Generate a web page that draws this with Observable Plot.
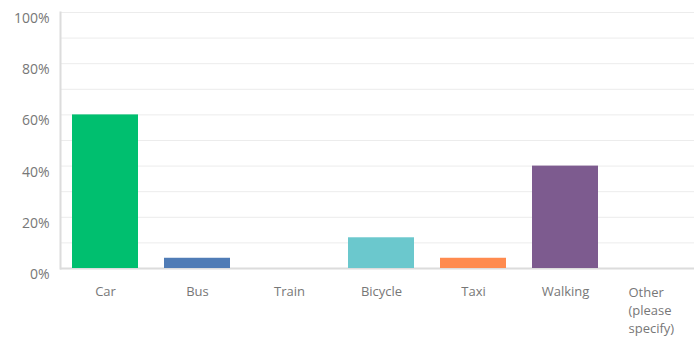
<!DOCTYPE html>
<html><head><meta charset="utf-8">
<script src="https://cdn.jsdelivr.net/npm/d3@7"></script>
<script src="https://cdn.jsdelivr.net/npm/@observablehq/plot@0.6"></script>
<style>body{margin:0;background:#fff}</style>
</head><body><div id="chart"></div>
<script>
const categories = ["Car", "Bus", "Train", "Bicycle", "Taxi", "Walking", "Other (please specify)"];
const values = [60, 4, 0, 12, 4, 40, 0];
const colors = ["#00bf6f", "#507cb6", "#f9be00", "#6bc8cd", "#ff8b4f", "#7d5b8f", "#9d9d9d"];
const yTickValues = [0, 20, 40, 60, 80, 100];
const gridValues = [10, 20, 30, 40, 50, 60, 70, 80, 90, 100];

const data = categories.map((c, i) => ({category: c, value: values[i]}));
const otherLabel = "Other\n(please\nspecify)";

const chart = Plot.plot({
  width: 694, height: 341,
  marginLeft: 60, marginRight: 0, marginTop: 12, marginBottom: 73,
  style: {fontFamily: "'Open Sans', sans-serif", fontSize: "13px", background: "#fff"},
  x: {domain: categories, range: [60, 702], paddingInner: 0.28, paddingOuter: 0.12, axis: null},
  y: {domain: [0, 100], axis: null},
  color: {domain: categories, range: colors},
  marks: [
    Plot.ruleY(gridValues, {y: d => d, stroke: "#ececec", strokeWidth: 1}),
    Plot.ruleY([0], {stroke: "#dcdcdc", strokeWidth: 2}),
    Plot.barY(data, {x: "category", y: "value", fill: "category"}),
    Plot.frame({anchor: "left", stroke: "#dcdcdc", strokeWidth: 2}),
    Plot.axisY({ticks: yTickValues, tickFormat: d => d + "%", tickSize: 0, tickPadding: 11, dy: 6, fill: "#777", fontSize: 14, label: null}),
    Plot.text(data.filter(d => d.category !== categories[6]), {
      x: "category", frameAnchor: "bottom", lineAnchor: "top", dy: 18,
      text: "category", fill: "#777", fontSize: 13
    }),
    Plot.text(data.filter(d => d.category === categories[6]), {
      x: "category", frameAnchor: "bottom", lineAnchor: "top", dy: 16, dx: -29,
      text: () => otherLabel, textAnchor: "start", lineHeight: 1.38, fill: "#777", fontSize: 13
    })
  ]
});
document.getElementById("chart").appendChild(chart);
</script>
</body></html>
